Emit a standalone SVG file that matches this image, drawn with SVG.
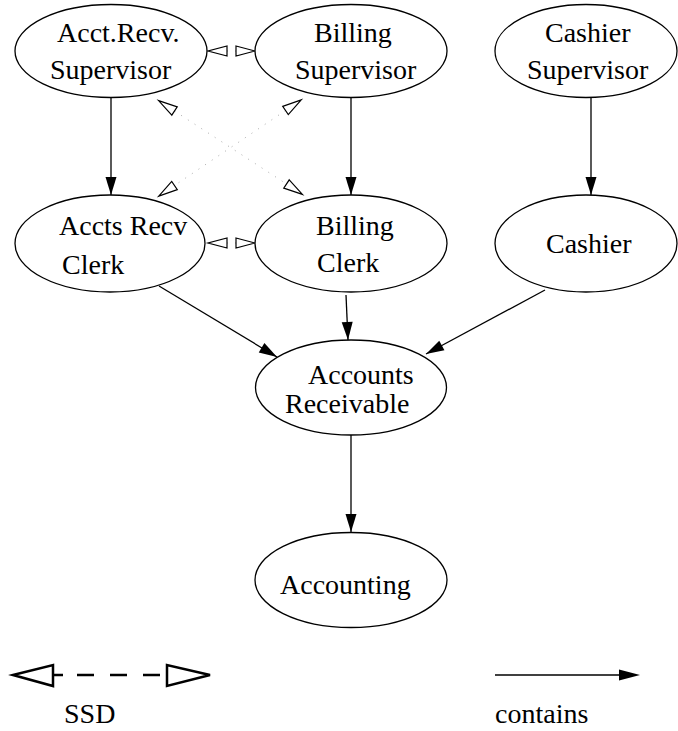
<svg xmlns="http://www.w3.org/2000/svg" width="678" height="731" viewBox="0 0 678 731" font-family="'Liberation Serif', 'Times New Roman', Times, 'DejaVu Serif', serif">
<style>
.n ellipse{fill:#fff;stroke:#000;stroke-width:1.3}
text{font-family:'Liberation Serif','Times New Roman',Times,'DejaVu Serif',serif;font-size:28px;fill:#000}
.c{stroke:#000;stroke-width:1.3;fill:none;marker-end:url(#ah)}
.s{stroke:#aaa;stroke-width:1;stroke-dasharray:1 7;fill:none;marker-start:url(#oh);marker-end:url(#oh)}
</style>
<defs>
<marker id="ah" markerUnits="userSpaceOnUse" markerWidth="19" markerHeight="12" refX="18" refY="5.5" orient="auto" overflow="visible"><path d="M0,0 L18,5.5 L0,11 z" fill="#000"/></marker>
<marker id="oh" markerUnits="userSpaceOnUse" markerWidth="22" markerHeight="12" refX="0" refY="5" orient="auto-start-reverse" overflow="visible"><path d="M0,0 L19,5 L0,10 z" fill="#fff" stroke="#000" stroke-width="1.2"/></marker>
</defs>
<g id="connectors">
<line class="c" x1="111" y1="98" x2="111" y2="195"/>
<line class="c" x1="351" y1="98" x2="351" y2="195"/>
<line class="c" x1="591" y1="98" x2="591" y2="195"/>
<line class="c" x1="159" y1="286" x2="277" y2="357"/>
<line class="c" x1="346" y1="295" x2="348" y2="340"/>
<line class="c" x1="545" y1="290" x2="426" y2="354"/>
<line class="c" x1="351" y1="435" x2="351" y2="532"/>
<line class="s" x1="227" y1="51" x2="236" y2="51"/>
<line class="s" x1="227" y1="243" x2="236" y2="243"/>
<line class="s" x1="174.5" y1="111" x2="286.5" y2="184"/>
<line class="s" x1="285.5" y1="110.5" x2="174.5" y2="185.5"/>
</g>
<g id="n1" class="n"><ellipse cx="111" cy="51" rx="96" ry="46.5"/><text x="57" y="42">Acct.Recv.</text><text x="50" y="79">Supervisor</text></g>
<g id="n2" class="n"><ellipse cx="351" cy="51" rx="96" ry="46.5"/><text x="314" y="42">Billing</text><text x="295" y="79">Supervisor</text></g>
<g id="n3" class="n"><ellipse cx="586" cy="51" rx="91" ry="46.5"/><text x="545" y="42">Cashier</text><text x="527" y="79">Supervisor</text></g>
<g id="n4" class="n"><ellipse cx="110" cy="243.5" rx="95" ry="48.5"/><text x="59" y="235">Accts Recv</text><text x="62" y="274">Clerk</text></g>
<g id="n5" class="n"><ellipse cx="351" cy="243.5" rx="96" ry="48.5"/><text x="316" y="235">Billing</text><text x="317" y="272">Clerk</text></g>
<g id="n6" class="n"><ellipse cx="586" cy="243.5" rx="91" ry="48.5"/><text x="546" y="253">Cashier</text></g>
<g id="n7" class="n"><ellipse cx="351" cy="387.5" rx="95.5" ry="47.5"/><text x="308" y="384">Accounts</text><text x="285" y="413">Receivable</text></g>
<g id="n8" class="n"><ellipse cx="351" cy="580" rx="96" ry="47.5"/><text x="280" y="594">Accounting</text></g>
<g id="legend">
<line x1="53" y1="675" x2="167" y2="675" stroke="#000" stroke-width="2.5" stroke-dasharray="10 14 17 16 17 16 17 16"/>
<polygon points="13,675 53,665 53,686" fill="#fff" stroke="#000" stroke-width="2.5"/>
<polygon points="210,675 167,665 167,686" fill="#fff" stroke="#000" stroke-width="2.5"/>
<text x="64" y="723">SSD</text>
<line x1="495" y1="675" x2="620" y2="675" stroke="#000" stroke-width="1.3"/>
<path d="M619,669.5 L640,675 L619,680.5 z" fill="#000"/>
<text x="495" y="723">contains</text>
</g>
</svg>
